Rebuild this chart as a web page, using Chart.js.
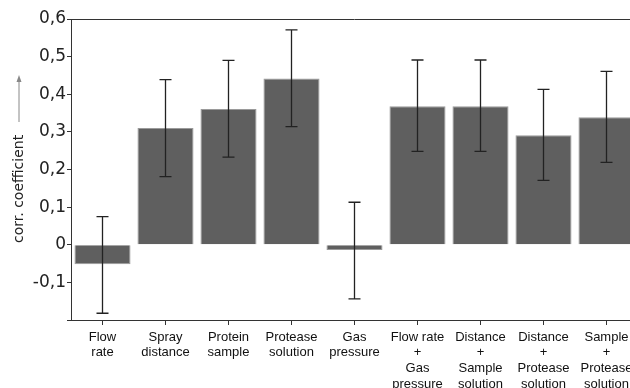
<!DOCTYPE html>
<html>
<head>
<meta charset="utf-8">
<script src="https://cdn.jsdelivr.net/npm/chart.js@4"></script>
<style>
  body { margin: 0; background: #fff; }
  #wrap { width: 630px; height: 388px; overflow: hidden; position: relative; }
  canvas { display: block; }
</style>
</head>
<body>
<div id="wrap"><canvas id="corrChart" width="650" height="400"></canvas></div>
<script>
// カテゴリ・値・誤差範囲
const categories = [
    ["Flow", "rate"],
    ["Spray", "distance"],
    ["Protein", "sample"],
    ["Protease", "solution"],
    ["Gas", "pressure"],
    ["Flow rate", "+", "Gas", "pressure"],
    ["Distance", "+", "Sample", "solution"],
    ["Distance", "+", "Protease", "solution"],
    ["Sample", "+", "Protease", "solution"]
];
const corrValues = [-0.052, 0.31, 0.361, 0.442, -0.014, 0.368, 0.368, 0.291, 0.339];
const errLow = [-0.182, 0.181, 0.233, 0.314, -0.144, 0.248, 0.248, 0.171, 0.219];
const errHigh = [0.075, 0.439, 0.490, 0.571, 0.113, 0.491, 0.491, 0.413, 0.461];
const yTicks = [-0.1, 0, 0.1, 0.2, 0.3, 0.4, 0.5, 0.6];

// エラーバー描画
const errorBars = {
    id: 'errorBars',
    afterDatasetsDraw(chart) {
        const ctx = chart.ctx;
        const x = chart.scales.x;
        const y = chart.scales.y;
        ctx.save();
        ctx.strokeStyle = '#222';
        ctx.lineWidth = 1.3;
        categories.forEach((c, i) => {
            const px = x.getPixelForValue(i);
            const top = y.getPixelForValue(errHigh[i]);
            const bot = y.getPixelForValue(errLow[i]);
            ctx.beginPath();
            ctx.moveTo(px, top); ctx.lineTo(px, bot);
            ctx.moveTo(px - 6, top); ctx.lineTo(px + 6, top);
            ctx.moveTo(px - 6, bot); ctx.lineTo(px + 6, bot);
            ctx.stroke();
        });
        ctx.restore();
    }
};

// 枠線と縦軸タイトル
const frameAndTitle = {
    id: 'frameAndTitle',
    afterDraw(chart) {
        const ctx = chart.ctx;
        const a = chart.chartArea;
        ctx.save();
        ctx.strokeStyle = '#333';
        ctx.lineWidth = 1;
        ctx.beginPath();
        ctx.moveTo(a.left, a.top + 0.5);
        ctx.lineTo(a.right, a.top + 0.5);
        ctx.lineTo(a.right, a.bottom);
        ctx.stroke();

        ctx.translate(19, 243);
        ctx.rotate(-Math.PI / 2);
        ctx.fillStyle = '#222';
        ctx.font = '14px "DejaVu Sans"';
        ctx.textAlign = 'left';
        ctx.textBaseline = 'middle';
        ctx.fillText('corr. coefficient', 0, 0);
        // 矢印
        ctx.strokeStyle = '#888';
        ctx.fillStyle = '#888';
        ctx.beginPath();
        ctx.moveTo(121, 0); ctx.lineTo(165, 0);
        ctx.stroke();
        ctx.beginPath();
        ctx.moveTo(168, 0); ctx.lineTo(161, -2.5); ctx.lineTo(161, 2.5);
        ctx.closePath();
        ctx.fill();
        ctx.restore();
    }
};

const ctxCorr = document.getElementById('corrChart').getContext('2d');
new Chart(ctxCorr, {
    type: 'bar',
    data: {
        labels: categories,
        datasets: [{
            data: corrValues,
            backgroundColor: '#5f5f5f',
            borderColor: '#9a9a9a',
            borderWidth: 1,
            barPercentage: 0.89,
            categoryPercentage: 1
        }]
    },
    options: {
        responsive: false,
        animation: false,
        layout: { padding: { top: 19, right: 12, left: 0, bottom: 0 } },
        scales: {
            x: {
                afterFit: (s) => { s.height = 80; },
                grid: { offset: false, drawOnChartArea: false, tickLength: 5, color: '#333' },
                border: { color: '#333' },
                ticks: {
                    color: '#111',
                    font: { family: 'Arial, "Liberation Sans"', size: 13, lineHeight: 1.22 },
                    padding: 4,
                    maxRotation: 0,
                    autoSkip: false
                }
            },
            y: {
                min: -0.2,
                max: 0.6,
                afterFit: (s) => { s.width = 71; },
                grid: { drawOnChartArea: false, tickLength: 4, color: '#333' },
                border: { color: '#333' },
                ticks: {
                    stepSize: 0.05,
                    padding: 1,
                    color: '#222',
                    font: { family: '"DejaVu Sans"', size: 17 },
                    callback: function (v) {
                        const r = Math.round(v * 100) / 100;
                        const hit = yTicks.find(t => Math.abs(t - r) < 1e-6);
                        if (hit === undefined) return '';
                        return hit === 0 ? '0' : hit.toFixed(1).replace('.', ',');
                    }
                }
            }
        },
        plugins: {
            legend: { display: false },
            tooltip: { enabled: false }
        }
    },
    plugins: [errorBars, frameAndTitle]
});
</script>
</body>
</html>
